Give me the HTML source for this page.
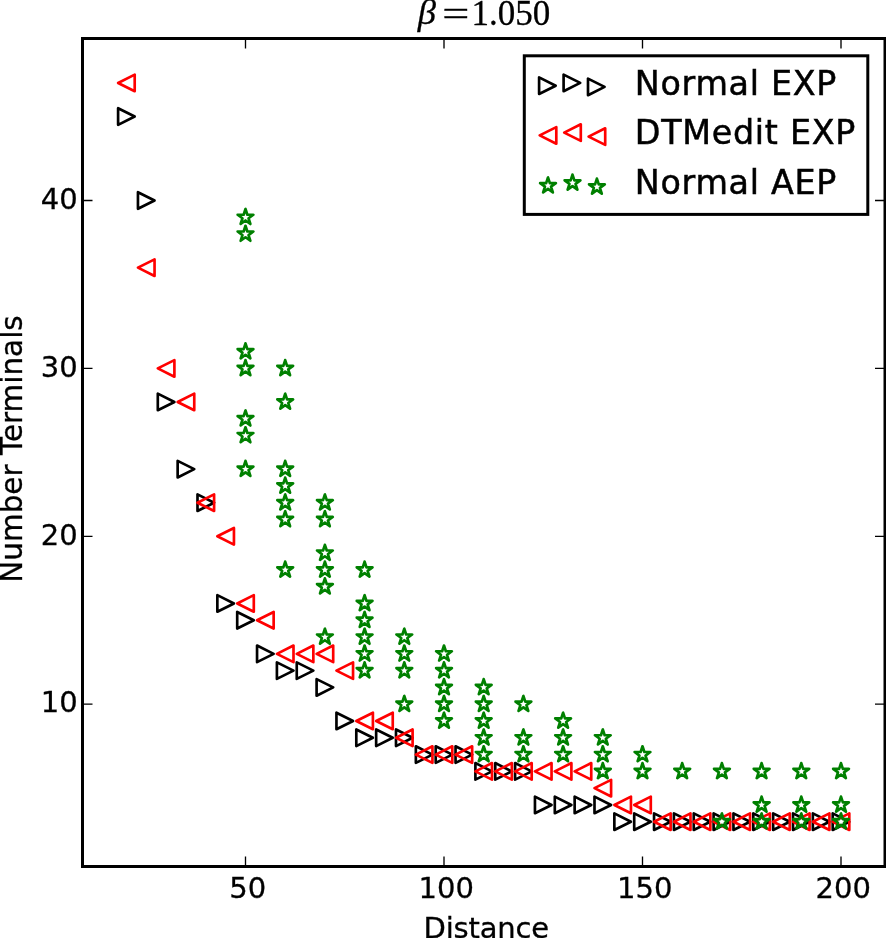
<!DOCTYPE html>
<html lang="en"><head><meta charset="utf-8"><title>beta = 1.050</title>
<style>html,body{margin:0;padding:0;background:#fff}body{width:886px;height:938px;overflow:hidden}svg{display:block;will-change:transform}text{font-family:"DejaVu Sans","Liberation Sans",sans-serif;fill:#000;stroke:#000;stroke-width:0.3px}.t{font-size:29px}.l{font-size:33.33px;letter-spacing:0.72px;stroke-width:0.5px}.m{font-family:"Liberation Serif","DejaVu Serif",serif;font-size:35px}.k{fill:none;stroke:#000;stroke-width:2.67;stroke-linejoin:round}.r{fill:none;stroke:#f00;stroke-width:2.67;stroke-linejoin:round}.g{fill:none;stroke:#008000;stroke-width:2.67;stroke-linejoin:round}</style></head><body>
<svg width="886" height="938" viewBox="0 0 886 938">
<defs><path id="a" d="M8.3 0L-8.3 -8.3L-8.3 8.3Z"/><path id="b" d="M-8.3 0L8.3 -8.3L8.3 8.3Z"/><path id="c" d="M0 -8.3 L-1.86 -2.56 L-7.89 -2.56 L-3.02 0.98 L-4.88 6.71 L-0 3.17 L4.88 6.71 L3.02 0.98 L7.89 -2.56 L1.86 -2.56Z"/></defs>
<rect width="886" height="938" fill="#fff"/>
<path d="M245.5 866.5v-10 M245.5 38.5v10 M444 866.5v-10 M444 38.5v10 M642.5 866.5v-10 M642.5 38.5v10 M841 866.5v-10 M841 38.5v10 M82.5 704.2h10 M885 704.2h-10 M82.5 536.3h10 M885 536.3h-10 M82.5 368.4h10 M885 368.4h-10 M82.5 200.5h10 M885 200.5h-10" stroke="#000" stroke-width="1.33" fill="none"/>
<g class="k"><use href="#a" x="126.4" y="116.55"/><use href="#a" x="146.25" y="200.5"/><use href="#a" x="166.1" y="401.98"/><use href="#a" x="185.95" y="469.14"/><use href="#a" x="205.8" y="502.72"/><use href="#a" x="225.65" y="603.46"/><use href="#a" x="245.5" y="620.25"/><use href="#a" x="265.35" y="653.83"/><use href="#a" x="285.2" y="670.62"/><use href="#a" x="305.05" y="670.62"/><use href="#a" x="324.9" y="687.41"/><use href="#a" x="344.75" y="720.99"/><use href="#a" x="364.6" y="737.78"/><use href="#a" x="384.45" y="737.78"/><use href="#a" x="404.3" y="737.78"/><use href="#a" x="424.15" y="754.57"/><use href="#a" x="444" y="754.57"/><use href="#a" x="463.85" y="754.57"/><use href="#a" x="483.7" y="771.36"/><use href="#a" x="503.55" y="771.36"/><use href="#a" x="523.4" y="771.36"/><use href="#a" x="543.25" y="804.94"/><use href="#a" x="563.1" y="804.94"/><use href="#a" x="582.95" y="804.94"/><use href="#a" x="602.8" y="804.94"/><use href="#a" x="622.65" y="821.73"/><use href="#a" x="642.5" y="821.73"/><use href="#a" x="662.35" y="821.73"/><use href="#a" x="682.2" y="821.73"/><use href="#a" x="702.05" y="821.73"/><use href="#a" x="721.9" y="821.73"/><use href="#a" x="741.75" y="821.73"/><use href="#a" x="761.6" y="821.73"/><use href="#a" x="781.45" y="821.73"/><use href="#a" x="801.3" y="821.73"/><use href="#a" x="821.15" y="821.73"/><use href="#a" x="841" y="821.73"/></g>
<g class="r"><use href="#b" x="126.4" y="82.97"/><use href="#b" x="146.25" y="267.66"/><use href="#b" x="166.1" y="368.4"/><use href="#b" x="185.95" y="401.98"/><use href="#b" x="205.8" y="502.72"/><use href="#b" x="225.65" y="536.3"/><use href="#b" x="245.5" y="603.46"/><use href="#b" x="265.35" y="620.25"/><use href="#b" x="285.2" y="653.83"/><use href="#b" x="305.05" y="653.83"/><use href="#b" x="324.9" y="653.83"/><use href="#b" x="344.75" y="670.62"/><use href="#b" x="364.6" y="720.99"/><use href="#b" x="384.45" y="720.99"/><use href="#b" x="404.3" y="737.78"/><use href="#b" x="424.15" y="754.57"/><use href="#b" x="444" y="754.57"/><use href="#b" x="463.85" y="754.57"/><use href="#b" x="483.7" y="771.36"/><use href="#b" x="503.55" y="771.36"/><use href="#b" x="523.4" y="771.36"/><use href="#b" x="543.25" y="771.36"/><use href="#b" x="563.1" y="771.36"/><use href="#b" x="582.95" y="771.36"/><use href="#b" x="602.8" y="788.15"/><use href="#b" x="622.65" y="804.94"/><use href="#b" x="642.5" y="804.94"/><use href="#b" x="662.35" y="821.73"/><use href="#b" x="682.2" y="821.73"/><use href="#b" x="702.05" y="821.73"/><use href="#b" x="721.9" y="821.73"/><use href="#b" x="741.75" y="821.73"/><use href="#b" x="761.6" y="821.73"/><use href="#b" x="781.45" y="821.73"/><use href="#b" x="801.3" y="821.73"/><use href="#b" x="821.15" y="821.73"/><use href="#b" x="841" y="821.73"/></g>
<g class="g"><use href="#c" x="245.5" y="217.29"/><use href="#c" x="245.5" y="234.08"/><use href="#c" x="245.5" y="351.61"/><use href="#c" x="245.5" y="368.4"/><use href="#c" x="245.5" y="418.77"/><use href="#c" x="245.5" y="435.56"/><use href="#c" x="245.5" y="469.14"/><use href="#c" x="285.2" y="368.4"/><use href="#c" x="285.2" y="401.98"/><use href="#c" x="285.2" y="469.14"/><use href="#c" x="285.2" y="485.93"/><use href="#c" x="285.2" y="502.72"/><use href="#c" x="285.2" y="519.51"/><use href="#c" x="285.2" y="569.88"/><use href="#c" x="324.9" y="502.72"/><use href="#c" x="324.9" y="519.51"/><use href="#c" x="324.9" y="553.09"/><use href="#c" x="324.9" y="569.88"/><use href="#c" x="324.9" y="586.67"/><use href="#c" x="324.9" y="637.04"/><use href="#c" x="364.6" y="569.88"/><use href="#c" x="364.6" y="603.46"/><use href="#c" x="364.6" y="620.25"/><use href="#c" x="364.6" y="637.04"/><use href="#c" x="364.6" y="653.83"/><use href="#c" x="364.6" y="670.62"/><use href="#c" x="404.3" y="637.04"/><use href="#c" x="404.3" y="653.83"/><use href="#c" x="404.3" y="670.62"/><use href="#c" x="404.3" y="704.2"/><use href="#c" x="444" y="653.83"/><use href="#c" x="444" y="670.62"/><use href="#c" x="444" y="687.41"/><use href="#c" x="444" y="704.2"/><use href="#c" x="444" y="720.99"/><use href="#c" x="483.7" y="687.41"/><use href="#c" x="483.7" y="704.2"/><use href="#c" x="483.7" y="720.99"/><use href="#c" x="483.7" y="737.78"/><use href="#c" x="483.7" y="754.57"/><use href="#c" x="523.4" y="704.2"/><use href="#c" x="523.4" y="737.78"/><use href="#c" x="523.4" y="754.57"/><use href="#c" x="563.1" y="720.99"/><use href="#c" x="563.1" y="737.78"/><use href="#c" x="563.1" y="754.57"/><use href="#c" x="602.8" y="737.78"/><use href="#c" x="602.8" y="754.57"/><use href="#c" x="602.8" y="771.36"/><use href="#c" x="642.5" y="754.57"/><use href="#c" x="642.5" y="771.36"/><use href="#c" x="682.2" y="771.36"/><use href="#c" x="721.9" y="771.36"/><use href="#c" x="721.9" y="821.73"/><use href="#c" x="761.6" y="771.36"/><use href="#c" x="761.6" y="804.94"/><use href="#c" x="761.6" y="821.73"/><use href="#c" x="801.3" y="771.36"/><use href="#c" x="801.3" y="804.94"/><use href="#c" x="801.3" y="821.73"/><use href="#c" x="841" y="771.36"/><use href="#c" x="841" y="804.94"/><use href="#c" x="841" y="821.73"/></g>
<rect x="82.5" y="38.5" width="802.5" height="828" fill="none" stroke="#000" stroke-width="3"/>
<text class="t" x="247.7" y="898.1" text-anchor="middle">50</text>
<text class="t" x="446.2" y="898.1" text-anchor="middle">100</text>
<text class="t" x="644.7" y="898.1" text-anchor="middle">150</text>
<text class="t" x="843.2" y="898.1" text-anchor="middle">200</text>
<text class="t" x="77.7" y="712.4" text-anchor="end">10</text>
<text class="t" x="77.7" y="544.5" text-anchor="end">20</text>
<text class="t" x="77.7" y="376.6" text-anchor="end">30</text>
<text class="t" x="77.7" y="208.7" text-anchor="end">40</text>
<text class="t" x="486.2" y="937.8" text-anchor="middle" letter-spacing="-0.2">Distance</text>
<text class="t" style="font-size:29.45px" transform="translate(22.1 449) rotate(-90)" text-anchor="middle">Number Terminals</text>
<text class="m" x="417.8" y="24" style="font-style:italic;font-size:36.5px">β</text>
<text class="m" x="442.3" y="26.3" textLength="27.1" lengthAdjust="spacingAndGlyphs">=</text>
<text class="m" x="471.5" y="24.6">1.050</text>
<rect x="524.3" y="55.8" width="343.5" height="158.6" fill="#fff" stroke="#000" stroke-width="3"/>
<g class="k"><use href="#a" x="547.4" y="85.7"/><use href="#a" x="571.9" y="82.9"/><use href="#a" x="596.3" y="86.9"/></g>
<text class="l" x="634.8" y="94.6">Normal EXP</text>
<g class="r"><use href="#b" x="548" y="135.4"/><use href="#b" x="572.5" y="132.6"/><use href="#b" x="596.9" y="136.6"/></g>
<text class="l" x="634.8" y="144.3">DTMedit EXP</text>
<g class="g"><use href="#c" x="548" y="185.7"/><use href="#c" x="572.5" y="182.9"/><use href="#c" x="596.9" y="186.9"/></g>
<text class="l" x="634.8" y="194">Normal AEP</text>
</svg></body></html>
